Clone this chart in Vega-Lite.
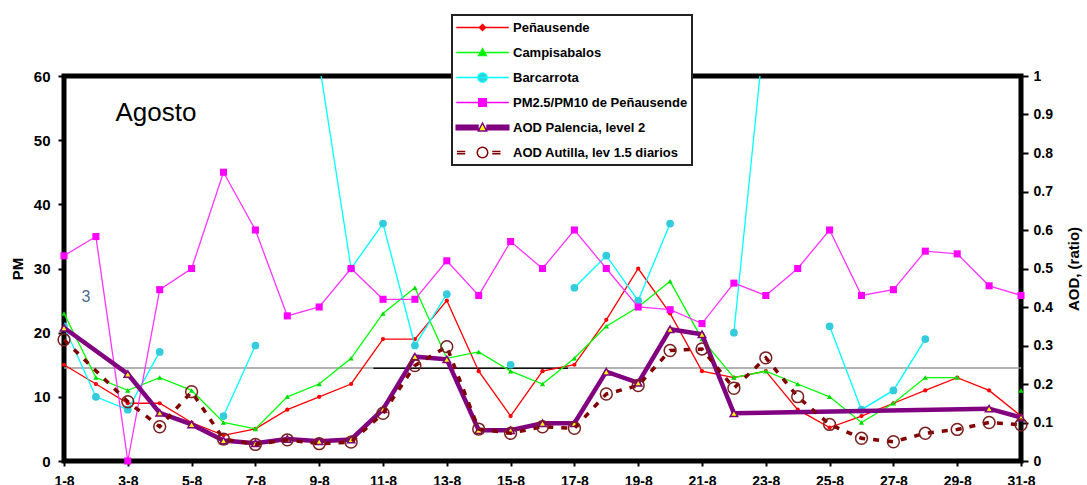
{
  "$schema": "https://vega.github.io/schema/vega-lite/v6.json",
  "width": 957,
  "height": 385,
  "autosize": {"type": "none"},
  "padding": {"left": 64, "top": 76, "right": 66, "bottom": 24},
  "background": "white",
  "config": {
    "font": "Liberation Sans",
    "view": {"stroke": "black", "strokeWidth": 5},
    "legend": {"strokeColor": "#222222", "strokeWidth": 2},
    "axis": {
      "grid": false,
      "domain": false,
      "ticks": true,
      "tickColor": "black",
      "tickWidth": 2,
      "labelFont": "Liberation Sans",
      "labelFontWeight": "bold",
      "labelColor": "black",
      "titleFont": "Liberation Sans",
      "titleFontWeight": "bold",
      "titleColor": "black",
      "labelFlush": false,
      "labelOverlap": false
    }
  },
  "datasets": {
    "series": [
      {"day": 1, "serie": "Peñausende", "v": 15}, {"day": 2, "serie": "Peñausende", "v": 12}, {"day": 3, "serie": "Peñausende", "v": 9}, {"day": 4, "serie": "Peñausende", "v": 9}, {"day": 5, "serie": "Peñausende", "v": 6}, {"day": 6, "serie": "Peñausende", "v": 4}, {"day": 7, "serie": "Peñausende", "v": 5}, {"day": 8, "serie": "Peñausende", "v": 8}, {"day": 9, "serie": "Peñausende", "v": 10}, {"day": 10, "serie": "Peñausende", "v": 12}, {"day": 11, "serie": "Peñausende", "v": 19}, {"day": 12, "serie": "Peñausende", "v": 19}, {"day": 13, "serie": "Peñausende", "v": 25}, {"day": 14, "serie": "Peñausende", "v": 14}, {"day": 15, "serie": "Peñausende", "v": 7}, {"day": 16, "serie": "Peñausende", "v": 14}, {"day": 17, "serie": "Peñausende", "v": 15}, {"day": 18, "serie": "Peñausende", "v": 22}, {"day": 19, "serie": "Peñausende", "v": 30}, {"day": 20, "serie": "Peñausende", "v": 23}, {"day": 21, "serie": "Peñausende", "v": 14}, {"day": 22, "serie": "Peñausende", "v": 13}, {"day": 23, "serie": "Peñausende", "v": 14}, {"day": 24, "serie": "Peñausende", "v": 8}, {"day": 25, "serie": "Peñausende", "v": 5.2}, {"day": 26, "serie": "Peñausende", "v": 7}, {"day": 27, "serie": "Peñausende", "v": 9}, {"day": 28, "serie": "Peñausende", "v": 11}, {"day": 29, "serie": "Peñausende", "v": 13}, {"day": 30, "serie": "Peñausende", "v": 11}, {"day": 31, "serie": "Peñausende", "v": 7},

      {"day": 1, "serie": "Campisabalos", "v": 23}, {"day": 2, "serie": "Campisabalos", "v": 13}, {"day": 3, "serie": "Campisabalos", "v": 11}, {"day": 4, "serie": "Campisabalos", "v": 13}, {"day": 5, "serie": "Campisabalos", "v": 11}, {"day": 6, "serie": "Campisabalos", "v": 6}, {"day": 7, "serie": "Campisabalos", "v": 5}, {"day": 8, "serie": "Campisabalos", "v": 10}, {"day": 9, "serie": "Campisabalos", "v": 12}, {"day": 10, "serie": "Campisabalos", "v": 16}, {"day": 11, "serie": "Campisabalos", "v": 23}, {"day": 12, "serie": "Campisabalos", "v": 27}, {"day": 13, "serie": "Campisabalos", "v": 16}, {"day": 14, "serie": "Campisabalos", "v": 17}, {"day": 15, "serie": "Campisabalos", "v": 14}, {"day": 16, "serie": "Campisabalos", "v": 12}, {"day": 17, "serie": "Campisabalos", "v": 16}, {"day": 18, "serie": "Campisabalos", "v": 21}, {"day": 19, "serie": "Campisabalos", "v": 24}, {"day": 20, "serie": "Campisabalos", "v": 28}, {"day": 21, "serie": "Campisabalos", "v": 19}, {"day": 22, "serie": "Campisabalos", "v": 13}, {"day": 23, "serie": "Campisabalos", "v": 14}, {"day": 24, "serie": "Campisabalos", "v": 12}, {"day": 25, "serie": "Campisabalos", "v": 10}, {"day": 26, "serie": "Campisabalos", "v": 6}, {"day": 27, "serie": "Campisabalos", "v": 9}, {"day": 28, "serie": "Campisabalos", "v": 13}, {"day": 29, "serie": "Campisabalos", "v": 13}, {"day": 30, "serie": "Campisabalos", "v": null}, {"day": 31, "serie": "Campisabalos", "v": 11},

      {"day": 1, "serie": "Barcarrota", "v": 21}, {"day": 2, "serie": "Barcarrota", "v": 10}, {"day": 3, "serie": "Barcarrota", "v": 8}, {"day": 4, "serie": "Barcarrota", "v": 17}, {"day": 5, "serie": "Barcarrota", "v": null}, {"day": 6, "serie": "Barcarrota", "v": 7}, {"day": 7, "serie": "Barcarrota", "v": 18}, {"day": 8, "serie": "Barcarrota", "v": null}, {"day": 9, "serie": "Barcarrota", "v": 62}, {"day": 10, "serie": "Barcarrota", "v": 30}, {"day": 11, "serie": "Barcarrota", "v": 37}, {"day": 12, "serie": "Barcarrota", "v": 18}, {"day": 13, "serie": "Barcarrota", "v": 26}, {"day": 14, "serie": "Barcarrota", "v": null}, {"day": 15, "serie": "Barcarrota", "v": 15}, {"day": 16, "serie": "Barcarrota", "v": null}, {"day": 17, "serie": "Barcarrota", "v": 27}, {"day": 18, "serie": "Barcarrota", "v": 32}, {"day": 19, "serie": "Barcarrota", "v": 25}, {"day": 20, "serie": "Barcarrota", "v": 37}, {"day": 21, "serie": "Barcarrota", "v": null}, {"day": 22, "serie": "Barcarrota", "v": 20}, {"day": 23, "serie": "Barcarrota", "v": 69}, {"day": 24, "serie": "Barcarrota", "v": null}, {"day": 25, "serie": "Barcarrota", "v": 21}, {"day": 26, "serie": "Barcarrota", "v": 8}, {"day": 27, "serie": "Barcarrota", "v": 11}, {"day": 28, "serie": "Barcarrota", "v": 19}, {"day": 29, "serie": "Barcarrota", "v": null},

      {"day": 1, "serie": "PM2.5/PM10 de Peñausende", "v": 0.533}, {"day": 2, "serie": "PM2.5/PM10 de Peñausende", "v": 0.583}, {"day": 3, "serie": "PM2.5/PM10 de Peñausende", "v": 0}, {"day": 4, "serie": "PM2.5/PM10 de Peñausende", "v": 0.445}, {"day": 5, "serie": "PM2.5/PM10 de Peñausende", "v": 0.5}, {"day": 6, "serie": "PM2.5/PM10 de Peñausende", "v": 0.75}, {"day": 7, "serie": "PM2.5/PM10 de Peñausende", "v": 0.6}, {"day": 8, "serie": "PM2.5/PM10 de Peñausende", "v": 0.377}, {"day": 9, "serie": "PM2.5/PM10 de Peñausende", "v": 0.4}, {"day": 10, "serie": "PM2.5/PM10 de Peñausende", "v": 0.5}, {"day": 11, "serie": "PM2.5/PM10 de Peñausende", "v": 0.42}, {"day": 12, "serie": "PM2.5/PM10 de Peñausende", "v": 0.42}, {"day": 13, "serie": "PM2.5/PM10 de Peñausende", "v": 0.52}, {"day": 14, "serie": "PM2.5/PM10 de Peñausende", "v": 0.43}, {"day": 15, "serie": "PM2.5/PM10 de Peñausende", "v": 0.57}, {"day": 16, "serie": "PM2.5/PM10 de Peñausende", "v": 0.5}, {"day": 17, "serie": "PM2.5/PM10 de Peñausende", "v": 0.6}, {"day": 18, "serie": "PM2.5/PM10 de Peñausende", "v": 0.5}, {"day": 19, "serie": "PM2.5/PM10 de Peñausende", "v": 0.4}, {"day": 20, "serie": "PM2.5/PM10 de Peñausende", "v": 0.393}, {"day": 21, "serie": "PM2.5/PM10 de Peñausende", "v": 0.357}, {"day": 22, "serie": "PM2.5/PM10 de Peñausende", "v": 0.462}, {"day": 23, "serie": "PM2.5/PM10 de Peñausende", "v": 0.43}, {"day": 24, "serie": "PM2.5/PM10 de Peñausende", "v": 0.5}, {"day": 25, "serie": "PM2.5/PM10 de Peñausende", "v": 0.6}, {"day": 26, "serie": "PM2.5/PM10 de Peñausende", "v": 0.43}, {"day": 27, "serie": "PM2.5/PM10 de Peñausende", "v": 0.445}, {"day": 28, "serie": "PM2.5/PM10 de Peñausende", "v": 0.545}, {"day": 29, "serie": "PM2.5/PM10 de Peñausende", "v": 0.538}, {"day": 30, "serie": "PM2.5/PM10 de Peñausende", "v": 0.455}, {"day": 31, "serie": "PM2.5/PM10 de Peñausende", "v": 0.43},

      {"day": 1, "serie": "AOD Palencia, level 2", "v": 0.346}, {"day": 3, "serie": "AOD Palencia, level 2", "v": 0.226}, {"day": 4, "serie": "AOD Palencia, level 2", "v": 0.125}, {"day": 5, "serie": "AOD Palencia, level 2", "v": 0.095}, {"day": 6, "serie": "AOD Palencia, level 2", "v": 0.053}, {"day": 7, "serie": "AOD Palencia, level 2", "v": 0.046}, {"day": 8, "serie": "AOD Palencia, level 2", "v": 0.057}, {"day": 9, "serie": "AOD Palencia, level 2", "v": 0.051}, {"day": 10, "serie": "AOD Palencia, level 2", "v": 0.056}, {"day": 11, "serie": "AOD Palencia, level 2", "v": 0.134}, {"day": 12, "serie": "AOD Palencia, level 2", "v": 0.271}, {"day": 13, "serie": "AOD Palencia, level 2", "v": 0.264}, {"day": 14, "serie": "AOD Palencia, level 2", "v": 0.08}, {"day": 15, "serie": "AOD Palencia, level 2", "v": 0.08}, {"day": 16, "serie": "AOD Palencia, level 2", "v": 0.098}, {"day": 17, "serie": "AOD Palencia, level 2", "v": 0.098}, {"day": 18, "serie": "AOD Palencia, level 2", "v": 0.232}, {"day": 19, "serie": "AOD Palencia, level 2", "v": 0.203}, {"day": 20, "serie": "AOD Palencia, level 2", "v": 0.342}, {"day": 21, "serie": "AOD Palencia, level 2", "v": 0.329}, {"day": 22, "serie": "AOD Palencia, level 2", "v": 0.124}, {"day": 30, "serie": "AOD Palencia, level 2", "v": 0.136}, {"day": 31, "serie": "AOD Palencia, level 2", "v": 0.113},

      {"day": 1, "serie": "AOD Autilla, lev 1.5 diarios", "v": 0.315}, {"day": 3, "serie": "AOD Autilla, lev 1.5 diarios", "v": 0.154}, {"day": 4, "serie": "AOD Autilla, lev 1.5 diarios", "v": 0.089}, {"day": 5, "serie": "AOD Autilla, lev 1.5 diarios", "v": 0.18}, {"day": 6, "serie": "AOD Autilla, lev 1.5 diarios", "v": 0.057}, {"day": 7, "serie": "AOD Autilla, lev 1.5 diarios", "v": 0.043}, {"day": 8, "serie": "AOD Autilla, lev 1.5 diarios", "v": 0.055}, {"day": 9, "serie": "AOD Autilla, lev 1.5 diarios", "v": 0.045}, {"day": 10, "serie": "AOD Autilla, lev 1.5 diarios", "v": 0.049}, {"day": 11, "serie": "AOD Autilla, lev 1.5 diarios", "v": 0.124}, {"day": 12, "serie": "AOD Autilla, lev 1.5 diarios", "v": 0.248}, {"day": 13, "serie": "AOD Autilla, lev 1.5 diarios", "v": 0.297}, {"day": 14, "serie": "AOD Autilla, lev 1.5 diarios", "v": 0.083}, {"day": 15, "serie": "AOD Autilla, lev 1.5 diarios", "v": 0.072}, {"day": 16, "serie": "AOD Autilla, lev 1.5 diarios", "v": 0.089}, {"day": 17, "serie": "AOD Autilla, lev 1.5 diarios", "v": 0.085}, {"day": 18, "serie": "AOD Autilla, lev 1.5 diarios", "v": 0.174}, {"day": 19, "serie": "AOD Autilla, lev 1.5 diarios", "v": 0.196}, {"day": 20, "serie": "AOD Autilla, lev 1.5 diarios", "v": 0.287}, {"day": 21, "serie": "AOD Autilla, lev 1.5 diarios", "v": 0.291}, {"day": 22, "serie": "AOD Autilla, lev 1.5 diarios", "v": 0.189}, {"day": 23, "serie": "AOD Autilla, lev 1.5 diarios", "v": 0.268}, {"day": 24, "serie": "AOD Autilla, lev 1.5 diarios", "v": 0.167}, {"day": 25, "serie": "AOD Autilla, lev 1.5 diarios", "v": 0.095}, {"day": 26, "serie": "AOD Autilla, lev 1.5 diarios", "v": 0.059}, {"day": 27, "serie": "AOD Autilla, lev 1.5 diarios", "v": 0.05}, {"day": 28, "serie": "AOD Autilla, lev 1.5 diarios", "v": 0.072}, {"day": 29, "serie": "AOD Autilla, lev 1.5 diarios", "v": 0.082}, {"day": 30, "serie": "AOD Autilla, lev 1.5 diarios", "v": 0.1}, {"day": 31, "serie": "AOD Autilla, lev 1.5 diarios", "v": 0.094}
    ],
    "refs": [
      {"day": 1, "day2": 31, "v": 14.5, "kind": "gris"},
      {"day": 10.7, "day2": 16.8, "v": 14.45, "kind": "negro"}
    ],
    "notes": [
      {"day": 3.88, "v": 54.2, "label": "Agosto", "kind": "titulo"},
      {"day": 1.69, "v": 25.6, "label": "3", "kind": "marca"}
    ],
    "names": [
      {"serie": "Peñausende"}, {"serie": "Campisabalos"}, {"serie": "Barcarrota"},
      {"serie": "PM2.5/PM10 de Peñausende"}, {"serie": "AOD Palencia, level 2"}, {"serie": "AOD Autilla, lev 1.5 diarios"}
    ]
  },
  "encoding": {
    "x": {
      "field": "day",
      "type": "quantitative",
      "scale": {"domain": [1, 31], "nice": false, "zero": false},
      "axis": {
        "values": [1, 3, 5, 7, 9, 11, 13, 15, 17, 19, 21, 23, 25, 27, 29, 31],
        "labelExpr": "datum.value + '-8'",
        "tickSize": 5,
        "labelPadding": 8,
        "labelFontSize": 14,
        "labelBaseline": "top"
      },
      "title": null
    }
  },
  "layer": [
    {
      "encoding": {
        "y": {
          "field": "v",
          "type": "quantitative",
          "scale": {"domain": [0, 60], "nice": false, "zero": true},
          "axis": {
            "orient": "left",
            "values": [0, 10, 20, 30, 40, 50, 60],
            "tickSize": 6,
            "labelPadding": 8,
            "labelFontSize": 15,
            "titleFontSize": 15,
            "titlePadding": 8
          },
          "title": "PM"
        }
      },
      "layer": [
        {
          "data": {"name": "refs"},
          "transform": [{"filter": "datum.kind === 'gris'"}],
          "mark": {"type": "rule", "color": "#9a9a9a", "strokeWidth": 1.5},
          "encoding": {"x2": {"field": "day2"}}
        },
        {
          "data": {"name": "refs"},
          "transform": [{"filter": "datum.kind === 'negro'"}],
          "mark": {"type": "rule", "color": "#111111", "strokeWidth": 1.5},
          "encoding": {"x2": {"field": "day2"}}
        },
        {
          "data": {"name": "series"},
          "transform": [{"filter": "datum.serie === 'Peñausende'"}],
          "mark": {"type": "line", "color": "#FF0000", "strokeWidth": 1.3, "invalid": "break-paths-filter-domains"}
        },
        {
          "data": {"name": "series"},
          "transform": [{"filter": "datum.serie === 'Peñausende'"}],
          "mark": {"type": "point", "shape": "circle", "filled": true, "color": "#FF0000", "size": 18, "opacity": 1}
        },
        {
          "data": {"name": "series"},
          "transform": [{"filter": "datum.serie === 'Campisabalos'"}],
          "mark": {"type": "line", "color": "#00FF00", "strokeWidth": 1.3, "invalid": "break-paths-filter-domains"}
        },
        {
          "data": {"name": "series"},
          "transform": [{"filter": "datum.serie === 'Campisabalos'"}],
          "mark": {"type": "point", "shape": "triangle-up", "filled": true, "color": "#00DD00", "size": 28, "opacity": 1}
        },
        {
          "data": {"name": "series"},
          "transform": [{"filter": "datum.serie === 'Barcarrota'"}],
          "mark": {"type": "line", "color": "#00FFFF", "strokeWidth": 1.3, "clip": true, "invalid": "break-paths-filter-domains"}
        },
        {
          "data": {"name": "series"},
          "transform": [{"filter": "datum.serie === 'Barcarrota'"}],
          "mark": {"type": "point", "shape": "circle", "filled": true, "color": "#33CCDD", "size": 60, "opacity": 1, "clip": true}
        },
        {
          "data": {"name": "notes"},
          "transform": [{"filter": "datum.kind === 'titulo'"}],
          "mark": {"type": "text", "font": "Liberation Sans", "fontSize": 26, "color": "black", "align": "center", "baseline": "middle"},
          "encoding": {"text": {"field": "label"}}
        },
        {
          "data": {"name": "notes"},
          "transform": [{"filter": "datum.kind === 'marca'"}],
          "mark": {"type": "text", "font": "Liberation Sans", "fontSize": 16, "color": "#4d6a90", "align": "center", "baseline": "middle"},
          "encoding": {"text": {"field": "label"}}
        },
        {
          "data": {"name": "names"},
          "mark": {"type": "point", "filled": true, "opacity": 1},
          "encoding": {
            "shape": {
              "field": "serie",
              "type": "nominal",
              "scale": {
                "domain": ["Peñausende", "Campisabalos", "Barcarrota", "PM2.5/PM10 de Peñausende", "AOD Palencia, level 2", "AOD Autilla, lev 1.5 diarios"],
                "range": [
                  "M-3.5,0L3.5,0M0,-0.4L0.4,0L0,0.4L-0.4,0Z",
                  "M-3.5,0L3.5,0M0,-0.5L0.5,0.4L-0.5,0.4Z",
                  "M-3.5,0L3.5,0M-0.6,0A0.6,0.6,0,1,0,0.6,0A0.6,0.6,0,1,0,-0.6,0Z",
                  "M-3.5,0L3.5,0M-0.5,-0.5L0.5,-0.5L0.5,0.5L-0.5,0.5Z",
                  "M-3.6,-0.3L-0.5,-0.3M0.5,-0.3L3.6,-0.3M-3.6,-0.1L-0.5,-0.1M0.5,-0.1L3.6,-0.1M-3.6,0.1L-0.5,0.1M0.5,0.1L3.6,0.1M-3.6,0.3L-0.5,0.3M0.5,0.3L3.6,0.3M0,-0.6L0.55,0.45L-0.55,0.45Z",
                  "M-3.4,-0.15L-2.3,-0.15M-3.4,0.15L-2.3,0.15M1.3,-0.15L2.4,-0.15M1.3,0.15L2.4,0.15M-0.7,0A0.7,0.7,0,1,0,0.7,0A0.7,0.7,0,1,0,-0.7,0Z"
                ]
              },
              "legend": {
                "title": null,
                "orient": "none",
                "legendX": 388,
                "legendY": -61,
                "padding": 4,
                "strokeColor": "#222222",
                "fillColor": "white",
                "symbolSize": 225,
                "symbolStrokeWidth": 1.5,
                "symbolOffset": 18,
                "labelOffset": 22,
                "rowPadding": 9,
                "labelFont": "Liberation Sans",
                "labelFontSize": 13,
                "labelFontWeight": "bold",
                "labelColor": "black",
                "labelLimit": 0
              }
            },
            "fill": {
              "field": "serie",
              "type": "nominal",
              "scale": {
                "domain": ["Peñausende", "Campisabalos", "Barcarrota", "PM2.5/PM10 de Peñausende", "AOD Palencia, level 2", "AOD Autilla, lev 1.5 diarios"],
                "range": ["#FF0000", "#00DD00", "#33CCDD", "#FF00FF", "#FFFF00", "#FFFFFF"]
              }
            },
            "stroke": {
              "field": "serie",
              "type": "nominal",
              "scale": {
                "domain": ["Peñausende", "Campisabalos", "Barcarrota", "PM2.5/PM10 de Peñausende", "AOD Palencia, level 2", "AOD Autilla, lev 1.5 diarios"],
                "range": ["#FF0000", "#00FF00", "#00FFFF", "#FF00FF", "#800080", "#800000"]
              }
            }
          }
        }
      ]
    },
    {
      "data": {"name": "series"},
      "encoding": {
        "y": {
          "field": "v",
          "type": "quantitative",
          "scale": {"domain": [0, 1], "nice": false, "zero": true},
          "axis": {
            "orient": "right",
            "values": [0, 0.1, 0.2, 0.3, 0.4, 0.5, 0.6, 0.7, 0.8, 0.9, 1],
            "format": "~g",
            "tickSize": 7,
            "labelPadding": 5,
            "labelFontSize": 14,
            "titleFontSize": 15,
            "titleAngle": 270,
            "titleBaseline": "top",
            "titlePadding": 14
          },
          "title": "AOD, (ratio)"
        }
      },
      "layer": [
        {
          "transform": [{"filter": "datum.serie === 'PM2.5/PM10 de Peñausende'"}],
          "mark": {"type": "line", "color": "#FF33FF", "strokeWidth": 1.3}
        },
        {
          "transform": [{"filter": "datum.serie === 'PM2.5/PM10 de Peñausende'"}],
          "mark": {"type": "point", "shape": "square", "filled": true, "color": "#FF00FF", "size": 50, "opacity": 1}
        },
        {
          "transform": [{"filter": "datum.serie === 'AOD Palencia, level 2'"}],
          "mark": {"type": "line", "color": "#800080", "strokeWidth": 4.5}
        },
        {
          "transform": [{"filter": "datum.serie === 'AOD Palencia, level 2'"}],
          "mark": {"type": "point", "shape": "triangle-up", "filled": true, "fill": "#FFFF00", "stroke": "#800080", "strokeWidth": 1.5, "size": 55, "opacity": 1}
        },
        {
          "transform": [{"filter": "datum.serie === 'AOD Autilla, lev 1.5 diarios'"}],
          "mark": {"type": "line", "color": "#800000", "strokeWidth": 3.5, "strokeDash": [6, 8]}
        },
        {
          "transform": [{"filter": "datum.serie === 'AOD Autilla, lev 1.5 diarios'"}],
          "mark": {"type": "point", "shape": "circle", "filled": false, "color": "#7a1f1f", "strokeWidth": 1.5, "size": 140, "opacity": 1}
        }
      ]
    }
  ],
  "resolve": {"scale": {"y": "independent"}, "axis": {"y": "independent"}}
}
